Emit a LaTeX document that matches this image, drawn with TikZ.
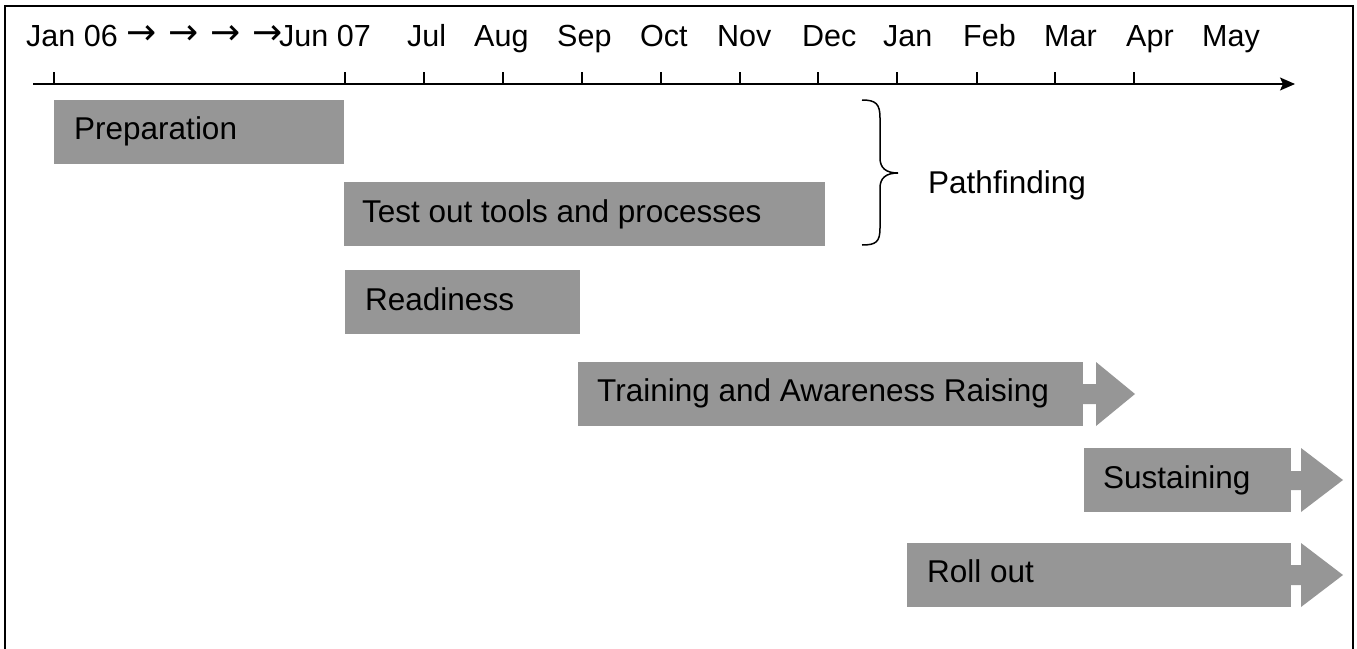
\documentclass[tikz,border=0pt]{standalone}
\usepackage{fontspec}
\setmainfont{Liberation Sans}
\newfontfamily\arrowfont{DejaVu Sans}
\usetikzlibrary{arrows.meta}
\definecolor{bargrey}{RGB}{150,150,150}
\tikzset{
  bar/.style={fill=bargrey, draw=none, inner sep=0pt, outer sep=0pt, anchor=north west},
  lbl/.style={inner sep=0pt, anchor=base west, font=\fontsize{31.5}{36}\selectfont},
  hdr/.style={inner sep=0pt, anchor=base west, font=\fontsize{30.5}{36}\selectfont},
  harrow/.style={inner sep=0pt, anchor=center, font=\arrowfont\fontsize{36}{40}\selectfont},
  frameline/.style={line width=1.6pt, black},
  axisline/.style={line width=1.5pt, black},
  tickline/.style={line width=1.3pt, black},
}
\begin{document}
\begin{tikzpicture}[x=1pt,y=-1pt]
\useasboundingbox (0,0) rectangle (1357,648);
% frame
\draw[frameline] (5,660) -- (5,6) -- (1353,6) -- (1353,660);
% header labels
\node[hdr] (hJan06) at (26,46) {Jan 06};
\node[harrow] (a1) at (142,35) {→};
\node[harrow] (a2) at (184,35) {→};
\node[harrow] (a3) at (226,35) {→};
\node[harrow] (a4) at (268,35) {→};
\node[hdr] (hJun) at (279,46) {Jun 07};
\node[hdr] (hJul) at (407,46) {Jul};
\node[hdr] (hAug) at (474,46) {Aug};
\node[hdr] (hSep) at (557,46) {Sep};
\node[hdr] (hOct) at (640,46) {Oct};
\node[hdr] (hNov) at (717,46) {Nov};
\node[hdr] (hDec) at (802,46) {Dec};
\node[hdr] (hJan) at (883,46) {Jan};
\node[hdr] (hFeb) at (963,46) {Feb};
\node[hdr] (hMar) at (1044,46) {Mar};
\node[hdr] (hApr) at (1126,46) {Apr};
\node[hdr] (hMay) at (1202,46) {May};
% axis
\coordinate (axS) at (33,84);
\coordinate (axE) at (1295,84);
\draw[axisline,-{Stealth[length=15pt,width=13pt,inset=3pt]}] (axS) -- (axE);
\foreach \t in {54,345,424,503,582,661,740,818,897,977,1055,1134}
  \draw[tickline] (\t,84) -- (\t,72);
% bars
\node[bar, minimum width=290pt, minimum height=64pt] (prep) at (54,100) {};
\node[lbl] (prepL) at (74,139) {Preparation};
\node[bar, minimum width=481pt, minimum height=64pt] (test) at (344,182) {};
\node[lbl] (testL) at (362,222) {Test out tools and processes};
\node[bar, minimum width=235pt, minimum height=64pt] (ready) at (345,270) {};
\node[lbl] (readyL) at (365,310) {Readiness};
\node[bar, minimum width=505pt, minimum height=64pt] (train) at (578,362) {};
\fill[bargrey] (1082,384) -- (1096,384) -- (1096,362) -- (1135,394) -- (1096,426) -- (1096,404) -- (1082,404) -- cycle;
\node[lbl] (trainL) at (597,401) {Training and Awareness Raising};
\node[bar, minimum width=207pt, minimum height=64pt] (sust) at (1084,448) {};
\fill[bargrey] (1290,471) -- (1301,471) -- (1301,448) -- (1343,480) -- (1301,512) -- (1301,490) -- (1290,490) -- cycle;
\node[lbl] (sustL) at (1103,488) {Sustaining};
\node[bar, minimum width=384pt, minimum height=64pt] (roll) at (907,543) {};
\fill[bargrey] (1290,565) -- (1301,565) -- (1301,543) -- (1343,575) -- (1301,607) -- (1301,585) -- (1290,585) -- cycle;
\node[lbl] (rollL) at (927,582) {Roll out};
% brace
\draw[line width=1.5pt] (862,100) .. controls (876,100) and (880,104) .. (880,118) -- (880,158)
  .. controls (880,168) and (886,173) .. (898,173)
  .. controls (886,173) and (880,178) .. (880,188) -- (880,228)
  .. controls (880,242) and (876,245) .. (862,245);
\node[lbl] (pathL) at (928,193) {Pathfinding};
\end{tikzpicture}
\end{document}
